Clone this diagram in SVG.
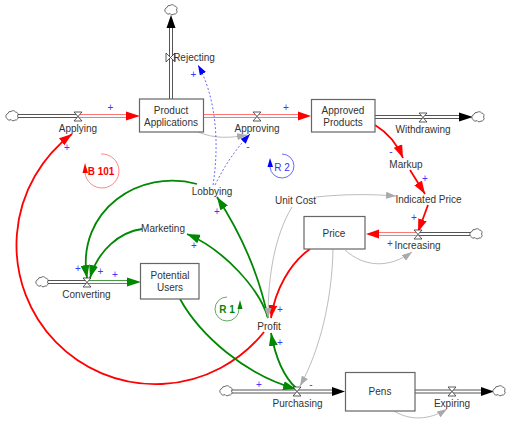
<svg xmlns="http://www.w3.org/2000/svg" width="512" height="425" viewBox="0 0 512 425">
<style>
text{font-family:"Liberation Sans",Arial,sans-serif;font-size:10px;fill:#333;text-anchor:middle}
.box{fill:#fff;stroke:#666;stroke-width:1.2}
.p{fill:#3a3aff;font-size:10px}
.pipe{fill:none;stroke:#555;stroke-width:1}
.pr{fill:none;stroke:#f77;stroke-width:1}
.pg{fill:none;stroke:#4a9a4a;stroke-width:1}
.v{fill:#fff;stroke:#333;stroke-width:.8}
.c{fill:#fff;stroke:#444;stroke-width:.8}
.red{fill:none;stroke:#f00;stroke-width:1.800}
.grn{fill:none;stroke:#080;stroke-width:1.800}
.gry{fill:none;stroke:#b4b4b4;stroke-width:.9}
.blu{fill:none;stroke:#44f;stroke-width:.8;stroke-dasharray:2 2}
</style>
<defs>
<marker id="ar" markerUnits="userSpaceOnUse" markerWidth="14" markerHeight="9" refX="13" refY="4.500" orient="auto"><path d="M0 0L13 4.500L0 9Z" fill="#f00"/></marker>
<marker id="ag" markerUnits="userSpaceOnUse" markerWidth="14" markerHeight="9" refX="13" refY="4.500" orient="auto"><path d="M0 0L13 4.500L0 9Z" fill="#080"/></marker>
<marker id="ay" markerUnits="userSpaceOnUse" markerWidth="11" markerHeight="7" refX="10" refY="3.500" orient="auto"><path d="M0 0L10 3.500L0 7Z" fill="#aaa"/></marker>
<marker id="ab" markerUnits="userSpaceOnUse" markerWidth="11" markerHeight="7" refX="10" refY="3.500" orient="auto"><path d="M0 0L10 3.500L0 7Z" fill="#00f"/></marker>
<path id="cl" class="c" d="M-4-2.500A2.500 2.500 0 0 1-1-4.500A3 3 0 0 1 3.500-4A2.500 2.500 0 0 1 5.500 0A2.500 2.500 0 0 1 3 4A2.500 2.500 0 0 1-1 3.500A2.500 2.500 0 0 1-5 2.500A2.800 2.800 0 0 1-4-2.500Z"/>
</defs>
<g id="connectors">
<path class="pipe" d="M18 114.500H78M18 117.500H78"/>
<path class="pr" d="M78 114.500H128M78 117.500H128"/>
<path d="M126 111.500L140 116L126 120.500Z" fill="#f00"/>
<path class="pr" d="M203 114.500H300M203 117.500H300"/>
<path d="M298 111.500L311 116L298 120.500Z" fill="#f00"/>
<path class="pipe" d="M375 115.500H465M375 118.500H465"/>
<path d="M459 112.500L473 117L459 121.500Z" fill="#000"/>
<path class="pipe" d="M169.500 99V27M172.500 99V27"/>
<path d="M166.500 28L171 15L175.500 28Z" fill="#000"/>
<path class="pipe" d="M418 232.500H472M418 235.500H472"/>
<path class="pr" d="M378 232.500H418M378 235.500H418"/>
<path d="M379 229.500L366 234L379 238.500Z" fill="#f00"/>
<path class="pipe" d="M48 280.500H87M48 283.500H87"/>
<path class="pg" d="M87 280.500H130M87 283.500H130"/>
<path d="M127 277.500L141 282L127 286.500Z" fill="#080"/>
<path class="pipe" d="M232 390H333M232 393H333"/>
<path d="M332 387L345 391.500L332 396Z" fill="#000"/>
<path class="pipe" d="M415 390H485M415 393H485"/>
<path d="M481 387L494 391.500L481 396Z" fill="#000"/>
<path class="red" d="M375 125C388 133 398 146 403 158" marker-end="url(#ar)"/>
<path class="red" d="M410 170L425 194" marker-end="url(#ar)"/>
<path class="red" d="M428 205L418 232" marker-end="url(#ar)"/>
<path class="red" d="M310 249C290 263 275 290 271 318" marker-end="url(#ar)"/>
<path class="red" d="M264 332A139 139 0 1 1 72 134" marker-end="url(#ar)"/>
<path class="grn" d="M296 388C282 375 275 355 271 333" marker-end="url(#ag)"/>
<path class="grn" d="M180 299C200 335 245 375 296 389" marker-end="url(#ag)"/>
<path class="grn" d="M268 318C260 290 225 250 187 234" marker-end="url(#ag)"/>
<path class="grn" d="M268 318C258 270 240 232 217 197" marker-end="url(#ag)"/>
<path class="grn" d="M197 184C140 168 76 210 87 278" marker-end="url(#ag)"/>
<path class="grn" d="M142 229C120 232 98 250 90 278" marker-end="url(#ag)"/>
<path class="gry" d="M198 132C215 139 230 138 247 135" marker-end="url(#ay)"/>
<path class="gry" d="M316 197C345 194 370 194 396 196" marker-end="url(#ay)"/>
<path class="gry" d="M292 207C275 235 268 275 268 318" marker-end="url(#ay)"/>
<path class="gry" d="M333 249C332 300 320 350 300 386" marker-end="url(#ay)"/>
<path class="gry" d="M345 250C365 268 390 268 412 252" marker-end="url(#ay)"/>
<path class="gry" d="M394 411C410 421 430 420 447 409" marker-end="url(#ay)"/>
<path class="blu" d="M213 185C220 140 215 95 198 65" marker-end="url(#ab)"/>
<path class="blu" d="M215 185C225 165 235 150 250 134" marker-end="url(#ab)"/>
</g>
<g id="loops">
<path d="M85 172A17 17 0 1 0 101 154" fill="none" stroke="#f66" stroke-width=".8"/>
<path d="M82.500 173L85 163L88 173Z" fill="#f00"/>
<path d="M270 167A12 12 0 1 0 282 154" fill="none" stroke="#44f" stroke-width=".8"/>
<path d="M267.500 167L270 158L273 167Z" fill="#00f"/>
<path d="M239 309A12 12 0 1 1 227 297" fill="none" stroke="#3a963a" stroke-width=".8"/>
<path d="M237.500 309L240 300L242.500 309Z" fill="#080"/>
<text x="101" y="175" style="font-weight:bold;fill:#f00">B 101</text>
<text x="282" y="170.500" style="fill:#33f">R 2</text>
<text x="227" y="312.500" style="font-weight:bold;fill:#080">R 1</text>
</g>
<g id="cloud-rejecting"><use href="#cl" x="171" y="10"/></g>
<g id="cloud-applying"><use href="#cl" x="12" y="116"/></g>
<g id="cloud-converting"><use href="#cl" x="42" y="282"/></g>
<g id="cloud-purchasing"><use href="#cl" x="226" y="391"/></g>
<g id="cloud-withdrawing"><use href="#cl" x="478" y="117"/></g>
<g id="cloud-increasing"><use href="#cl" x="476" y="234"/></g>
<g id="cloud-expiring"><use href="#cl" x="499" y="391"/></g>
<g id="product-applications"><rect class="box" x="139.500" y="99" width="64" height="33"/><text x="171" y="114">Product</text><text x="171" y="125.500">Applications</text></g>
<g id="approved-products"><rect class="box" x="311.500" y="99.500" width="63.500" height="32.500"/><text x="343" y="114">Approved</text><text x="343" y="125.500">Products</text></g>
<g id="price"><rect class="box" x="304" y="216.500" width="61" height="32.500"/><text x="334" y="237">Price</text></g>
<g id="potential-users"><rect class="box" x="140.500" y="263.500" width="58.500" height="35.500"/><text x="170" y="279">Potential</text><text x="170" y="290.500">Users</text></g>
<g id="pens"><rect class="box" x="345.500" y="372.500" width="69.500" height="38.500"/><text x="380" y="395">Pens</text></g>
<g id="applying"><path class="v" d="M74 112H82L74 121H82Z"/><text x="78" y="131.500">Applying</text></g>
<g id="approving"><path class="v" d="M253 112H261L253 121H261Z"/><text x="257" y="132">Approving</text></g>
<g id="withdrawing"><path class="v" d="M419 113H427L419 122H427Z"/><text x="423" y="133">Withdrawing</text></g>
<g id="increasing"><path class="v" d="M414 230H422L414 239H422Z"/><text x="417.500" y="249">Increasing</text></g>
<g id="converting"><path class="v" d="M83 278H91L83 287H91Z"/><text x="86.500" y="298">Converting</text></g>
<g id="purchasing"><path class="v" d="M293 387H301L293 396H301Z"/><text x="297.500" y="407">Purchasing</text></g>
<g id="expiring"><path class="v" d="M448 387H456L448 396H456Z"/><text x="452" y="407">Expiring</text></g>
<g id="rejecting"><path class="v" d="M166 53V62L175 53V62Z"/><text x="194" y="61">Rejecting</text></g>
<g id="lobbying"><text x="212" y="195">Lobbying</text></g>
<g id="marketing"><text x="163" y="232">Marketing</text></g>
<g id="profit"><text x="269" y="330">Profit</text></g>
<g id="markup"><text x="406" y="168">Markup</text></g>
<g id="indicated-price"><text x="428.500" y="203">Indicated Price</text></g>
<g id="unit-cost"><text x="295.500" y="204">Unit Cost</text></g>
<g id="polarity">
<text class="p" x="110.500" y="110.500">+</text><text class="p" x="67" y="150.500">+</text><text class="p" x="193.500" y="77.500">+</text><text class="p" x="286" y="110.500">+</text>
<text class="p" x="248" y="150">-</text><text class="p" x="391" y="155">-</text><text class="p" x="425" y="181.500">+</text><text class="p" x="414" y="220.500">+</text><text class="p" x="390" y="246.500">+</text>
<text class="p" x="217" y="214.500">+</text><text class="p" x="194" y="248.500">+</text><text class="p" x="78" y="271.500">+</text><text class="p" x="100.500" y="274.500">+</text><text class="p" x="115" y="277.500">+</text>
<text class="p" x="280" y="312.500">+</text><text class="p" x="280" y="345.500">+</text><text class="p" x="259" y="387.500">+</text><text class="p" x="311" y="388">-</text>
</g>
</svg>
